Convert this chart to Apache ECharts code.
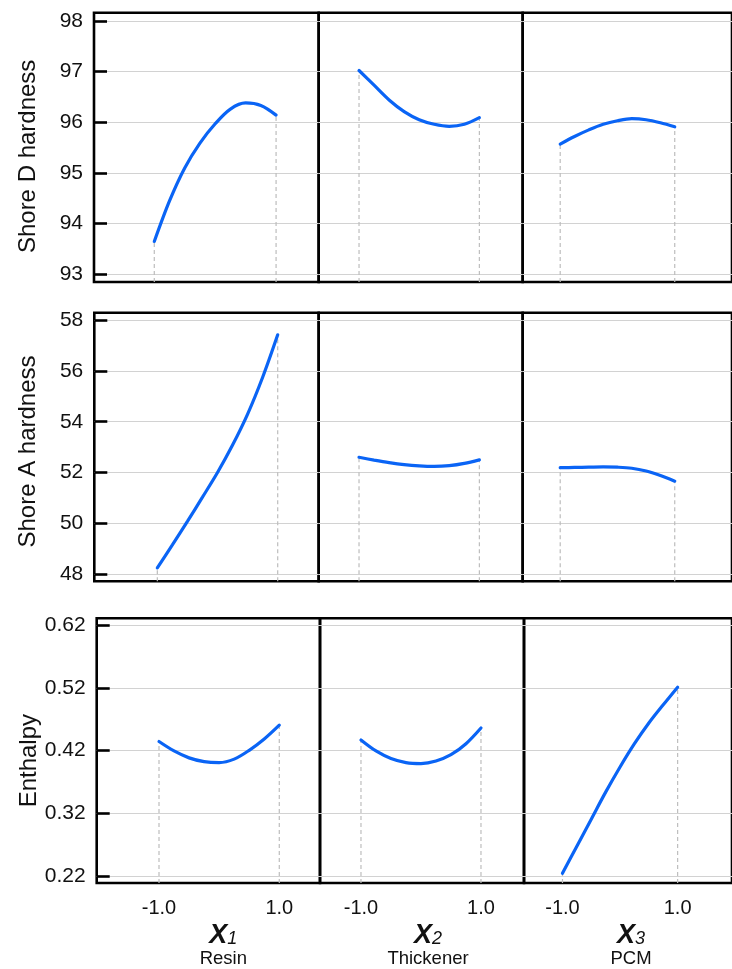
<!DOCTYPE html>
<html>
<head>
<meta charset="utf-8">
<script src="https://cdn.jsdelivr.net/npm/echarts@6/dist/echarts.min.js"></script>
<style>
  html, body { margin: 0; padding: 0; background: #fff; }
  #main { width: 732px; height: 969px; }
</style>
</head>
<body>
<div id="main"></div>
<script>
// coded factor levels along each curve
var xVals = [-1, -0.75, -0.5, -0.25, 0, 0.25, 0.5, 0.75, 1];

// Shore D hardness
var resinD = [93.65, 94.45, 95.10, 95.59, 95.97, 96.26, 96.38, 96.33, 96.14];
var thickD = [97.02, 96.73, 96.44, 96.21, 96.05, 95.96, 95.92, 95.96, 96.09];
var pcmD   = [95.57, 95.72, 95.85, 95.96, 96.03, 96.07, 96.05, 95.99, 95.91];
// Shore A hardness
var resinA = [48.25, 49.15, 50.08, 51.03, 52.00, 53.08, 54.30, 55.75, 57.42];
var thickA = [52.60, 52.49, 52.39, 52.31, 52.26, 52.24, 52.27, 52.36, 52.50];
var pcmA   = [52.19, 52.20, 52.21, 52.22, 52.21, 52.17, 52.06, 51.88, 51.66];
// Enthalpy
var resinH = [0.4345, 0.4195, 0.4085, 0.4025, 0.401, 0.4065, 0.4205, 0.4385, 0.4605];
var thickH = [0.437, 0.4195, 0.4075, 0.401, 0.3995, 0.4035, 0.4135, 0.431, 0.456];
var pcmH   = [0.225, 0.268, 0.311, 0.354, 0.394, 0.431, 0.464, 0.493, 0.521];

// tick labels
var yTicksD = [93, 94, 95, 96, 97, 98];
var yTicksA = [48, 50, 52, 54, 56, 58];
var yTicksH = [0.22, 0.32, 0.42, 0.52, 0.62];
var xTicks = [-1, 1];

var rowNames = ['Shore D hardness', 'Shore A hardness', 'Enthalpy'];
var colSymbols = ['1', '2', '3'];
var colNames = ['Resin', 'Thickener', 'PCM'];

var curves = [
  [resinD, thickD, pcmD],
  [resinA, thickA, pcmA],
  [resinH, thickH, pcmH]
];
var yTicks = [yTicksD, yTicksA, yTicksH];

// axis extents (value ranges), per row
var yRange = [[92.85, 98.16], [47.72, 58.29], [0.2095, 0.6305]];
var xRange = [
  [[-1.99, 1.70], [-1.67, 1.72], [-1.655, 2.0]],
  [[-2.047, 1.681], [-1.67, 1.72], [-1.655, 2.0]],
  [[-2.036, 1.677], [-1.683, 1.717], [-1.668, 1.944]]
];

// panel layout (the bottom row sits a touch to the right in the original)
var colLeft = [[94, 318.7, 522.7], [94.3, 318.7, 522.7], [96.7, 320, 524]];
var colRight = [[318.7, 522.7, 742], [318.7, 522.7, 742], [320, 524, 742]];
var rowTop = [12.7, 312.7, 618.3];
var rowHeight = [269.3, 268.6, 268.4];
var namePad = [30, 12, 6];
var yNameShift = [18, 9, 20];

var FONT = 'Liberation Sans, Arial, sans-serif';
var BLUE = '#0a64f5';

var grids = [], xAxes = [], yAxes = [], series = [];

for (var r = 0; r < 3; r++) {
  for (var c = 0; c < 3; c++) {
    var k = r * 3 + c;
    grids.push({
      left: colLeft[r][c], top: rowTop[r],
      width: colRight[r][c] - colLeft[r][c], height: rowHeight[r],
      show: true, borderColor: '#000', borderWidth: 2.6, backgroundColor: 'transparent'
    });

    var bottomRow = (r == 2);
    xAxes.push({
      type: 'value', gridIndex: k,
      min: xRange[r][c][0], max: xRange[r][c][1],
      axisLine: { show: false, onZero: false },
      axisTick: { show: false, customValues: xTicks },
      splitLine: { show: false },
      axisLabel: {
        show: bottomRow, customValues: xTicks, margin: 15,
        fontSize: 20, color: '#111', fontFamily: FONT,
        formatter: function (v) { return v.toFixed(1); }
      },
      name: bottomRow ? '{x|X}{s|' + colSymbols[c] + '}\n{n|' + colNames[c] + '}' : '',
      nameLocation: 'middle',
      nameGap: 41,
      nameTextStyle: {
        fontFamily: FONT, color: '#111',
        padding: [0, 0, 0, namePad[c]],
        rich: {
          x: { fontSize: 27, fontStyle: 'italic', fontWeight: 'bold', fontFamily: FONT, color: '#111', lineHeight: 24 },
          s: { fontSize: 18, fontStyle: 'italic', fontFamily: FONT, color: '#111', verticalAlign: 'bottom', lineHeight: 24 },
          n: { fontSize: 18.5, fontFamily: FONT, color: '#111', lineHeight: 21 }
        }
      }
    });

    var firstCol = (c == 0);
    yAxes.push({
      type: 'value', gridIndex: k,
      min: yRange[r][0], max: yRange[r][1],
      axisLine: { show: false, onZero: false },
      axisTick: {
        show: firstCol, inside: true, length: 13, customValues: yTicks[r],
        lineStyle: { color: '#000', width: 2.6 }
      },
      splitLine: { show: true, lineStyle: { color: '#d2d2d2', width: 1.2 } },
      axisLabel: {
        show: firstCol, customValues: yTicks[r], margin: 11,
        fontSize: 21, color: '#111', fontFamily: FONT,
        formatter: r == 2 ? function (v) { return v.toFixed(2); } : function (v) { return String(v); }
      },
      name: firstCol ? rowNames[r] : '',
      nameLocation: 'middle',
      nameRotate: 90,
      nameGap: 54,
      nameTextStyle: { fontSize: 24, color: '#111', fontFamily: FONT, padding: [0, yNameShift[r], 0, 0] }
    });

    var vals = curves[r][c];
    var pts = [];
    for (var j = 0; j < xVals.length; j++) {
      pts.push([xVals[j], vals[j]]);
    }

    // dashed drop lines from the end points
    var drops = [[xVals[0], vals[0]], [xVals[xVals.length - 1], vals[vals.length - 1]]];
    for (var d = 0; d < drops.length; d++) {
      series.push({
        type: 'line', xAxisIndex: k, yAxisIndex: k,
        data: [[drops[d][0], yRange[r][0]], drops[d]],
        showSymbol: false, silent: true, z: 2,
        lineStyle: { color: '#bdbdbd', width: 1.2, type: [4, 3] }
      });
    }

    series.push({
      type: 'line', xAxisIndex: k, yAxisIndex: k,
      data: pts, smooth: 0.33, showSymbol: false, z: 5,
      lineStyle: { color: BLUE, width: 3.2, cap: 'round' }
    });
  }
}

var myChart = echarts.init(document.getElementById('main'));
var option = {
  backgroundColor: '#fff',
  animation: false,
  textStyle: { fontFamily: FONT },
  grid: grids,
  xAxis: xAxes,
  yAxis: yAxes,
  series: series
};
myChart.setOption(option);
</script>
</body>
</html>
